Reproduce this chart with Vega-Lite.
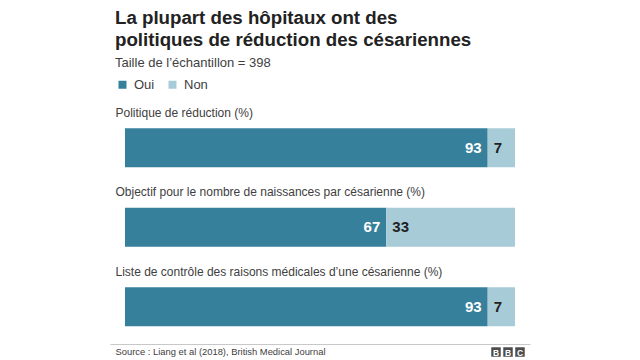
{
  "$schema": "https://vega.github.io/schema/vega-lite/v6.json",
  "autosize": {"type": "none"},
  "width": 420,
  "height": 238.5,
  "padding": {"left": 110, "top": 100, "right": 110, "bottom": 21.5},
  "background": "white",
  "config": {
    "view": {"stroke": null},
    "font": "Liberation Sans"
  },
  "title": {
    "text": ["La plupart des hôpitaux ont des", "politiques de réduction des césariennes"],
    "subtitle": "Taille de l’échantillon = 398",
    "anchor": "start",
    "frame": "group",
    "dx": 5,
    "offset": 8,
    "fontSize": 18.7,
    "fontWeight": "bold",
    "lineHeight": 22,
    "color": "#222222",
    "subtitleFontSize": 13,
    "subtitleColor": "#404040",
    "subtitlePadding": 7
  },
  "resolve": {"scale": {"x": "independent"}},
  "layer": [
    {
      "data": {
        "values": [
          {"question": "Politique de réduction (%)", "reponse": "Oui", "ordre": 1, "pct": 93},
          {"question": "Politique de réduction (%)", "reponse": "Non", "ordre": 2, "pct": 7},
          {"question": "Objectif pour le nombre de naissances par césarienne (%)", "reponse": "Oui", "ordre": 1, "pct": 67},
          {"question": "Objectif pour le nombre de naissances par césarienne (%)", "reponse": "Non", "ordre": 2, "pct": 33},
          {"question": "Liste de contrôle des raisons médicales d’une césarienne (%)", "reponse": "Oui", "ordre": 1, "pct": 93},
          {"question": "Liste de contrôle des raisons médicales d’une césarienne (%)", "reponse": "Non", "ordre": 2, "pct": 7}
        ]
      },
      "transform": [
        {"stack": "pct", "groupby": ["question"], "sort": [{"field": "ordre"}], "as": ["x0", "x1"]}
      ],
      "encoding": {
        "y": {
          "field": "question",
          "type": "nominal",
          "sort": null,
          "scale": {"paddingInner": 0, "paddingOuter": 0},
          "axis": {
            "title": null,
            "domain": false,
            "ticks": false,
            "tickSize": 0,
            "labelAlign": "left",
            "labelPadding": -5,
            "labelOffset": -27,
            "labelBaseline": "middle",
            "labelFontSize": 12,
            "labelColor": "#404040",
            "labelLimit": 0
          }
        }
      },
      "layer": [
        {
          "mark": {"type": "bar", "height": 39, "yOffset": 8},
          "encoding": {
            "x": {
              "field": "x0",
              "type": "quantitative",
              "scale": {"domain": [-3.846, 103.846], "nice": false, "zero": false},
              "axis": {
                "orient": "bottom",
                "offset": 5.5,
                "domainColor": "#c8c8c8",
                "domainWidth": 1,
                "ticks": false,
                "labels": false,
                "grid": false,
                "title": "Source : Liang et al (2018), British Medical Journal",
                "titleAnchor": "start",
                "titleAlign": "left",
                "titleBaseline": "alphabetic",
                "titleX": 5,
                "titleY": 10,
                "titleFontSize": 9.4,
                "titleFontWeight": "normal",
                "titleColor": "#404040"
              }
            },
            "x2": {"field": "x1"},
            "color": {
              "field": "reponse",
              "type": "nominal",
              "scale": {"domain": ["Oui", "Non"], "range": ["#37809c", "#a8cbd8"]},
              "legend": {
                "title": null,
                "orient": "none",
                "direction": "horizontal",
                "legendX": 6,
                "legendY": -22,
                "symbolType": "square",
                "symbolSize": 64,
                "symbolStrokeWidth": 0,
                "labelFontSize": 13,
                "labelColor": "#404040",
                "labelOffset": 5,
                "columnPadding": 11
              }
            }
          }
        },
        {
          "transform": [{"filter": "datum.reponse == 'Oui'"}],
          "mark": {"type": "text", "align": "right", "baseline": "middle", "dx": -6, "yOffset": 8, "fontSize": 15, "fontWeight": "bold", "color": "white"},
          "encoding": {
            "x": {"field": "x1", "type": "quantitative"},
            "text": {"field": "pct", "type": "quantitative"}
          }
        },
        {
          "transform": [{"filter": "datum.reponse == 'Non'"}],
          "mark": {"type": "text", "align": "left", "baseline": "middle", "dx": 6, "yOffset": 8, "fontSize": 15, "fontWeight": "bold", "color": "#222222"},
          "encoding": {
            "x": {"field": "x0", "type": "quantitative"},
            "text": {"field": "pct", "type": "quantitative"}
          }
        }
      ]
    },
    {
      "data": {"values": [{"lettre": "B", "rang": 1}, {"lettre": "B", "rang": 2}, {"lettre": "C", "rang": 3}]},
      "encoding": {
        "x": {"field": "rang", "type": "ordinal", "scale": {"type": "point", "range": [386, 410], "padding": 0}, "axis": null},
        "y": {"value": 252}
      },
      "layer": [
        {"mark": {"type": "square", "size": 90, "color": "#4d4d4d", "opacity": 1}},
        {"mark": {"type": "text", "color": "white", "fontSize": 8.5, "fontWeight": "bold", "baseline": "middle", "align": "center", "dy": 0.5}, "encoding": {"text": {"field": "lettre"}}}
      ]
    }
  ]
}
